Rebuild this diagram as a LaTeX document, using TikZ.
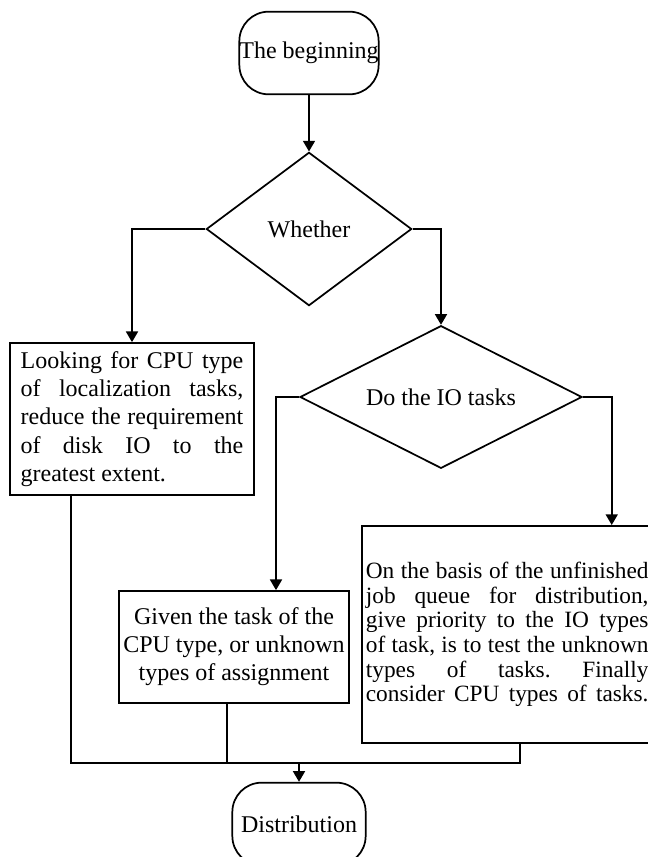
\documentclass[tikz,border=0pt]{standalone}
\usepackage{fontspec}
\setmainfont{Liberation Serif}
\usetikzlibrary{shapes.geometric, arrows.meta}
\frenchspacing

\begin{document}
\begin{tikzpicture}[x=0.75pt, y=-0.75pt, line width=1.3pt,
        term/.style={draw, rounded corners=22pt, minimum width=103pt, minimum height=62pt, inner sep=0pt, font=\fontsize{18}{21}\selectfont},
        decide/.style={draw, diamond, inner sep=0pt, font=\fontsize{18}{21}\selectfont},
        proc/.style={draw, rectangle, inner sep=3pt},
        arr/.style={-{Triangle[length=8pt, width=9pt]}}]
    \useasboundingbox (0,0) rectangle (648,857);

    \node[term] (start) at (309,53) {The beginning};
    \node[decide, aspect=1.34, minimum width=154pt, minimum height=115pt] (whether) at (309,229) {Whether};
    \node[decide, aspect=2, minimum width=211.5pt, minimum height=107pt] (io) at (441,397) {Do the IO tasks};
    \node[proc, text width=167pt, align=justify, minimum width=183pt, minimum height=114pt, font=\fontsize{18}{21.2}\selectfont] (cpu) at (132,419)
        {Looking for CPU type\linebreak of localization tasks,\linebreak reduce the requirement\linebreak of disk IO to the\linebreak greatest extent.};
    \node[proc, align=center, minimum width=172.5pt, minimum height=84pt, font=\fontsize{18}{21}\selectfont] (given) at (234,647)
        {Given the task of the\\CPU type, or unknown\\types of assignment};
    \node[proc, anchor=north west, text width=212pt, align=justify, minimum height=163pt, font=\fontsize{17.5}{18.5}\selectfont] (basis) at (361,525)
        {On the basis of the unfinished\linebreak job queue for distribution,\linebreak give priority to the IO types\linebreak of task, is to test the unknown\linebreak types of tasks. Finally\linebreak consider CPU types of tasks.\parfillskip=0pt\par\vspace{10pt}};
    \node[term, minimum width=100pt] (dist) at (299,824) {Distribution};
    \coordinate (merge) at (299,763);

    \draw[arr] (start) -- (whether);
    \draw[arr] (whether.west) -| (cpu.north);
    \draw[arr] (whether.east) -| (io.north);
    \draw[arr] (io.west) -| ([xshift=31.5pt]given.north);
    \draw[arr] (io.east) -| ([xshift=78.4pt]basis.north);
    \draw ([xshift=-45.75pt]cpu.south) |- (merge) -| ([xshift=9.4pt]basis.south);
    \draw ([xshift=-5.25pt]given.south) |- (merge);
    \draw[arr] (merge) -- (dist);
\end{tikzpicture}
\end{document}
